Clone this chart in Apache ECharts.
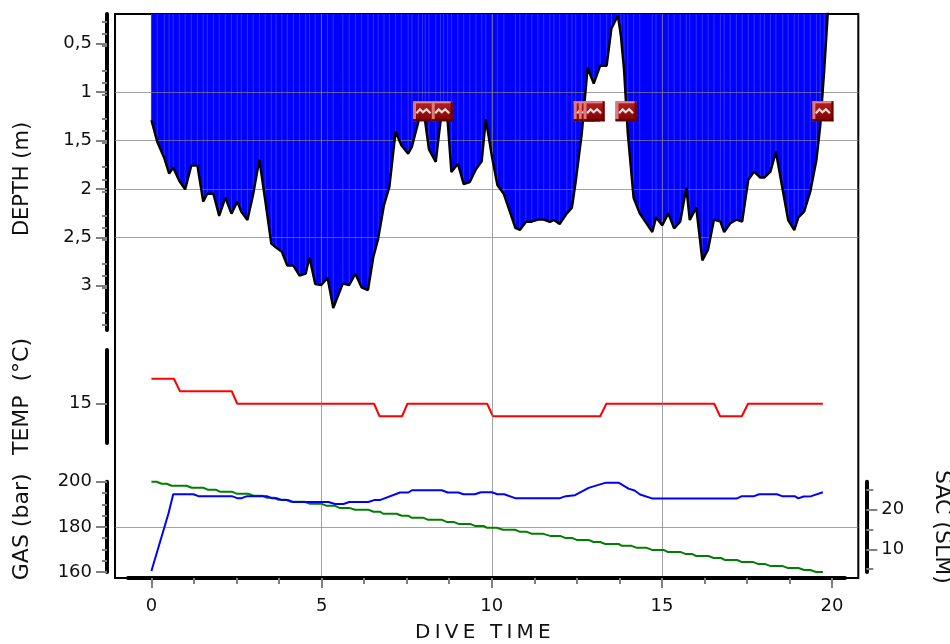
<!DOCTYPE html>
<html><head><meta charset="utf-8">
<style>html,body{margin:0;padding:0;background:#fff}#c{width:950px;height:644px}</style>
<script src="https://cdn.jsdelivr.net/npm/echarts@6/dist/echarts.min.js"></script>
</head><body><div id="c"></div>
<script>
const depthData = [[0,1.289],[0.17,1.512],[0.38,1.685],[0.52,1.843],[0.64,1.781],[0.82,1.919],[0.99,2.005],[1.17,1.76],[1.35,1.76],[1.52,2.132],[1.64,2.05],[1.82,2.05],[1.99,2.28],[2.17,2.09],[2.35,2.256],[2.52,2.132],[2.64,2.236],[2.82,2.322],[2.99,2.053],[3.17,1.698],[3.34,2.115],[3.52,2.566],[3.66,2.607],[3.83,2.649],[3.99,2.793],[4.17,2.793],[4.35,2.897],[4.53,2.876],[4.64,2.707],[4.81,2.983],[4.99,2.993],[5.17,2.917],[5.34,3.231],[5.62,2.979],[5.81,2.993],[5.99,2.876],[6.17,3.017],[6.36,3.045],[6.52,2.7],[6.66,2.514],[6.83,2.167],[6.99,1.977],[7.17,1.409],[7.34,1.55],[7.54,1.636],[7.65,1.564],[7.84,1.306],[7.96,1.17],[8.04,1.306],[8.15,1.592],[8.35,1.722],[8.49,1.306],[8.58,1.15],[8.7,1.306],[8.81,1.826],[9.0,1.74],[9.17,1.95],[9.35,1.929],[9.53,1.798],[9.7,1.716],[9.82,1.282],[10.0,1.667],[10.16,1.96],[10.35,2.053],[10.69,2.404],[10.82,2.425],[11.0,2.339],[11.17,2.339],[11.35,2.318],[11.52,2.318],[11.7,2.342],[11.82,2.322],[11.99,2.363],[12.2,2.253],[12.35,2.194],[12.46,1.926],[12.64,1.426],[12.81,0.748],[12.99,0.913],[13.18,0.727],[13.37,0.727],[13.51,0.342],[13.7,0.207],[13.79,0.428],[13.88,0.772],[13.99,1.426],[14.16,2.091],[14.34,2.253],[14.71,2.446],[14.82,2.294],[15.0,2.377],[15.18,2.253],[15.35,2.408],[15.53,2.339],[15.71,1.988],[15.81,2.322],[16.0,2.194],[16.18,2.738],[16.35,2.625],[16.52,2.318],[16.71,2.339],[16.82,2.446],[17.0,2.356],[17.18,2.318],[17.35,2.339],[17.53,1.905],[17.7,1.822],[17.88,1.884],[18.0,1.884],[18.18,1.822],[18.34,1.616],[18.54,2.012],[18.7,2.322],[18.88,2.425],[19.0,2.294],[19.17,2.236],[19.35,2.029],[19.53,1.702],[19.64,1.357],[19.76,0.772],[19.86,0.204],[19.9,0.1]];
const tempData = [[0,17],[0.66,17],[0.84,16],[2.36,16],[2.52,15],[6.54,15],[6.7,14],[7.36,14],[7.52,15],[9.86,15],[10.03,14],[13.18,14],[13.36,15],[16.53,15],[16.7,14],[17.34,14],[17.52,15],[19.72,15]];
const gasData = [[0,200],[0.15,200],[0.3,199.1],[0.45,199.1],[0.59,198.2],[1.03,198.2],[1.18,197.3],[1.52,197.3],[1.67,196.4],[1.9,196.4],[2.01,195.6],[2.36,195.6],[2.5,194.7],[2.84,194.7],[3.0,193.8],[3.25,193.8],[3.39,192.9],[3.6,192.9],[3.73,192],[3.95,192],[4.1,191.1],[4.5,191.1],[4.66,190.2],[5.0,190.2],[5.15,189.3],[5.39,189.3],[5.54,188.3],[5.83,188.3],[5.98,187.6],[6.37,187.6],[6.52,186.7],[6.71,186.7],[6.81,185.8],[7.2,185.8],[7.35,184.9],[7.55,184.9],[7.65,184],[7.99,184],[8.13,183.1],[8.53,183.1],[8.67,182.2],[8.87,182.2],[9.02,181.3],[9.36,181.3],[9.5,180.4],[9.75,180.4],[9.85,179.6],[10.14,179.6],[10.33,178.7],[10.68,178.7],[10.83,177.8],[11.03,177.8],[11.17,176.9],[11.51,176.9],[11.71,176],[12.0,176],[12.15,175.1],[12.35,175.1],[12.49,174.2],[12.84,174.2],[12.98,173.3],[13.18,173.3],[13.33,172.4],[13.72,172.4],[13.82,171.6],[14.1,171.6],[14.26,170.7],[14.55,170.7],[14.7,169.8],[15.04,169.8],[15.16,168.9],[15.53,168.9],[15.68,168],[15.87,168],[16.0,167.1],[16.36,167.1],[16.51,166.2],[16.73,166.2],[16.85,165.3],[17.2,165.3],[17.34,164.4],[17.68,164.4],[17.83,163.5],[18.03,163.5],[18.17,162.7],[18.52,162.7],[18.68,161.8],[19.0,161.8],[19.17,160.9],[19.35,160.9],[19.52,160],[19.72,160]];
const sacData = [[0,4.56],[0.5,19.0],[0.64,23.86],[1.23,23.86],[1.38,23.37],[2.36,23.37],[2.52,22.87],[2.65,22.87],[2.81,23.37],[3.39,23.37],[3.53,22.87],[3.68,22.87],[3.83,22.38],[4.02,22.38],[4.17,21.88],[5.2,21.88],[5.39,21.39],[5.64,21.39],[5.81,21.88],[6.37,21.88],[6.54,22.38],[6.71,22.38],[7.3,24.28],[7.55,24.28],[7.65,24.85],[8.53,24.85],[8.7,24.28],[9.02,24.28],[9.16,23.86],[9.5,23.86],[9.68,24.36],[10.0,24.36],[10.16,23.86],[10.36,23.86],[10.68,22.87],[12.0,22.87],[12.17,23.37],[12.44,23.61],[12.84,25.45],[13.03,25.94],[13.35,26.76],[13.72,26.76],[14.01,25.27],[14.19,24.78],[14.35,23.79],[14.7,22.8],[17.2,22.8],[17.34,23.37],[17.7,23.37],[17.85,23.86],[18.37,23.86],[18.52,23.37],[18.89,23.37],[19.0,22.8],[19.15,23.29],[19.38,23.37],[19.72,24.36]];
const eventTimes = [7.99,8.54,12.71,12.86,13.0,13.94,19.72];
const eventDepth = 1.198;
const depthTicks = [0.5,1,1.5,2,2.5,3];
const depthMinorTicks = [0.25,0.375,0.625,0.75,0.875,1.125,1.25,1.375,1.625,1.75,1.875,2.125,2.25,2.375,2.625,2.75,2.875,3.125,3.25,3.375];
const tempTicks = [15];
const gasTicks = [160,180,200];
const gasMinorTicks = [165,170,175,185,190,195];
const sacTicks = [10,20];
const sacMinorTicks = [5,15,25];
const timeTicks = [0,5,10,15,20];
const timeMinorTicks = [1.25,2.5,3.75,6.25,7.5,8.75,11.25,12.5,13.75,16.25,17.5,18.75];
const stripeData = depthData.filter(p => p[0] <= 19.8);

const FONT = '"DejaVu Sans", Verdana, sans-serif';
const INK = '#111';
const GRID = 'rgba(128,128,128,0.72)';
const TICK = '#808080';
const X0 = -1.07, X1 = 20.76;

const hiddenX = i => ({gridIndex:i, type:'value', min:X0, max:X1, show:false});
const titleStyle = {fontFamily:FONT, fontSize:22, color:INK};
const labelStyle = {fontFamily:FONT, fontSize:18, color:INK, margin:15};
const fmt = v => String(v).replace('.', ',');

function leftAxis(grid, min, max, ticks, extra) {
  return Object.assign({
    gridIndex:grid, type:'value', min, max, position:'left', offset:8, z:2,
    axisLine:{show:true, onZero:false, lineStyle:{color:'#000', width:4}},
    axisTick:{show:true, length:11, customValues:ticks, lineStyle:{color:TICK, width:2}},
    axisLabel:{show:true, customValues:ticks, formatter:fmt, ...labelStyle},
    splitLine:{show:true, showMinLine:false, showMaxLine:false, lineStyle:{color:GRID, width:1}},
    nameLocation:'middle', nameTextStyle:titleStyle
  }, extra);
}
function minorAxis(grid, min, max, ticks, position) {
  return {
    gridIndex:grid, type:'value', min, max, position, offset:8, z:2,
    axisLine:{show:false, onZero:false},
    axisTick:{show:true, length:position==='left'?5:7, customValues:ticks, lineStyle:{color:TICK, width:2}},
    axisLabel:{show:false}, splitLine:{show:false}
  };
}

function renderEvent(params, api) {
  const p = api.coord([api.value(0), api.value(1)]);
  const w = 21, h = 20, x = p[0]-w/2, y = p[1]-h/2;
  const r = (a,b,c,d,fill) => ({type:'rect', shape:{x:x+a,y:y+b,width:c,height:d}, style:{fill}});
  const face = new echarts.graphic.LinearGradient(0,0,0,1,[{offset:0,color:'#b82424'},{offset:1,color:'#7c0000'}]);
  return {type:'group', children:[
    r(0,0,w,h,face),
    r(0,0,w,2,'#e48a8a'),
    r(0,0,3,h,'#e07a7a'),
    r(w-2,0,2,h,'#6a0000'),
    r(0,h-2,w,2,'#5c0000'),
    r(0,h-2,3,1,'#222'),
    {type:'polyline', shape:{points:[[p[0]-7,p[1]+2],[p[0]-3.5,p[1]-2],[p[0]-0.5,p[1]+1],[p[0]+3,p[1]-2],[p[0]+7,p[1]+2]]},
      style:{stroke:'#f8dcdc', lineWidth:2.2, fill:null}}
  ]};
}

const chart = echarts.init(document.getElementById('c'), null, {renderer:'canvas'});
const zr = chart.getZr();
if (zr.painter && zr.painter.getLayer) {
  const layer = zr.painter.getLayer(1);
  if (layer && layer.ctx) layer.ctx.letterSpacing = '4.2px';
}
const gridBase = {left:115, width:743.3, show:false, outerBoundsMode:'none'};

chart.setOption({
  animation:false,
  backgroundColor:'#fff',
  grid:[
    {...gridBase, top:14, height:564, show:true, borderColor:'#000', borderWidth:2, backgroundColor:'transparent'},
    {left:128, top:14, width:717, height:564, show:false, outerBoundsMode:'none'},
    {...gridBase, top:14, height:316},
    {...gridBase, top:350, height:93},
    {...gridBase, top:481.7, height:90.3}
  ],
  xAxis:[
    {gridIndex:0, type:'value', min:X0, max:X1, z:2, position:'bottom',
      axisLine:{show:false}, axisLabel:{show:false},
      axisTick:{show:false, customValues:timeTicks},
      splitLine:{show:true, showMinLine:false, showMaxLine:false, lineStyle:{color:GRID, width:1}}},
    {gridIndex:1, type:'value', min:-0.69, max:20.38, z:2, position:'bottom',
      axisLine:{show:true, onZero:false, lineStyle:{color:'#000', width:4}},
      axisTick:{show:true, length:10, customValues:timeTicks, lineStyle:{color:TICK, width:2}},
      axisLabel:{show:true, customValues:timeTicks, fontFamily:FONT, fontSize:18, color:INK, margin:19},
      splitLine:{show:false}},
    {gridIndex:1, type:'value', min:-0.69, max:20.38, z:2, position:'bottom',
      axisLine:{show:false, onZero:false},
      axisTick:{show:true, length:6, customValues:timeMinorTicks, lineStyle:{color:TICK, width:2}},
      axisLabel:{show:false}, splitLine:{show:false}},
    hiddenX(2), hiddenX(3), hiddenX(4)
  ],
  yAxis:[
    {gridIndex:0, type:'value', min:0, max:1, show:false},
    {gridIndex:1, type:'value', min:0, max:1, show:false},
    leftAxis(2, 0.193, 3.458, depthTicks, {inverse:true, name:'DEPTH (m)', nameGap:74,
      nameTextStyle:{...titleStyle, fontSize:21, padding:[0,14,0,0]}}),
    minorAxis(2, 0.193, 3.458, depthMinorTicks, 'left'),
    leftAxis(3, 11.86, 19.3, tempTicks, {name:'TEMP  (°C)', nameGap:74}),
    leftAxis(4, 160, 200, gasTicks, {name:'GAS (bar)', nameGap:74, interval:20}),
    minorAxis(4, 160, 200, gasMinorTicks, 'left'),
    {gridIndex:4, type:'value', min:4.3, max:27, position:'right', offset:8, z:2,
      axisLine:{show:true, onZero:false, lineStyle:{color:'#000', width:4}},
      axisTick:{show:true, length:11, customValues:sacTicks, lineStyle:{color:TICK, width:2}},
      axisLabel:{show:true, customValues:sacTicks, ...labelStyle},
      splitLine:{show:false},
      name:'SAC (SLM)', nameLocation:'middle', nameGap:64, nameRotate:-90, nameTextStyle:{...titleStyle}},
    minorAxis(4, 4.3, 27, sacMinorTicks, 'right')
  ],
  graphic:[{type:'text', zlevel:1, x:485, y:633, silent:true,
    style:{text:'DIVE TIME', fontFamily:FONT, fontSize:20, fill:INK, textAlign:'center', textVerticalAlign:'middle'}}],
  series:[
    {type:'line', name:'depth fill', xAxisIndex:3, yAxisIndex:2, data:depthData, showSymbol:false, z:1,
      lineStyle:{width:0}, areaStyle:{color:'#0000ff', opacity:1, origin:'start'}},
    {type:'bar', name:'depth samples', xAxisIndex:3, yAxisIndex:2, data:stripeData, barWidth:1, z:1,
      itemStyle:{color:'#3030ff'}},
    {type:'line', name:'depth', xAxisIndex:3, yAxisIndex:2, data:depthData, showSymbol:false, z:3,
      lineStyle:{color:'#000', width:2.4}},
    {type:'custom', name:'events', xAxisIndex:3, yAxisIndex:2, z:4, clip:false, renderItem:renderEvent,
      data:eventTimes.map(t => [t, eventDepth])},
    {type:'line', name:'temperature', xAxisIndex:4, yAxisIndex:4, data:tempData, showSymbol:false, z:1, clip:false,
      lineStyle:{color:'#ff0000', width:2}},
    {type:'line', name:'gas', xAxisIndex:5, yAxisIndex:5, data:gasData, showSymbol:false, z:3, clip:false,
      lineStyle:{color:'#008000', width:2}},
    {type:'line', name:'sac', xAxisIndex:5, yAxisIndex:7, data:sacData, showSymbol:false, z:3, clip:false,
      lineStyle:{color:'#0000ff', width:2}}
  ]
});
</script></body></html>
